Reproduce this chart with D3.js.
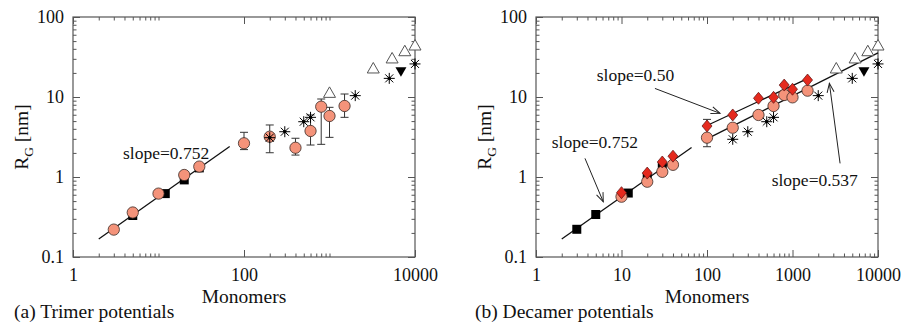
<!DOCTYPE html>
<html>
<head>
<meta charset="utf-8">
<script src="https://cdn.jsdelivr.net/npm/d3@7"></script>
<style>
body { margin: 0; background: #fff; }
svg text { font-family: "Liberation Serif", Tinos, "DejaVu Serif", serif !important; }
</style>
</head>
<body>
<svg id="chart" width="905" height="322"></svg>
<script>
// DATA ----------------------------------------------
// tick labels
const xTicksA = [1, 100, 10000];
const xTicksB = [1, 10, 100, 1000, 10000];
const yTicks = [0.1, 1, 10, 100];

// (a) trimer potentials
const aSquaresN = [5, 12, 20, 30];
const aSquaresR = [0.33, 0.62, 0.92, 1.3];
const aCirclesN = [3, 5, 10, 20, 30, 100, 200, 400, 600, 800, 1000, 1500];
const aCirclesR = [0.22, 0.36, 0.62, 1.06, 1.35, 2.64, 3.19, 2.32, 3.76, 7.57, 5.79, 7.72];
const aCirclesLo = [null, null, null, null, null, 2.2, 2.01, 1.88, 2.51, 2.56, 3.13, 5.57];
const aCirclesHi = [null, null, null, null, null, 3.62, 4.47, 3.05, 5.96, 9.44, 7.43, 10.9];
const aStarsN = [200, 300, 500, 600, 2000, 5000, 10000];
const aStarsR = [3.1, 3.68, 4.91, 5.57, 10.4, 17.1, 25.9];
const aTrianglesN = [1000, 3250, 5400, 7600, 10000];
const aTrianglesR = [11.1, 22.4, 29.9, 36.8, 43.4];
const aDownN = [6850];
const aDownR = [20.7];
const aFitN = [2, 68];
const aFitR = [0.168, 2.4];

// (b) decamer potentials
const bSquaresN = [3, 5, 12, 20, 30];
const bSquaresR = [0.222, 0.34, 0.63, 0.99, 1.35];
const bCirclesN = [10, 20, 30, 40, 100, 200, 400, 600, 800, 1000, 1500];
const bCirclesR = [0.567, 0.873, 1.16, 1.42, 3.1, 4.13, 5.96, 7.72, 10.6, 9.9, 12.0];
const bCirclesLo = [null, null, null, null, 2.39, null, null, null, null, null, null];
const bDiamondsN = [10, 20, 30, 40, 100, 200, 400, 600, 800, 1000, 1500];
const bDiamondsR = [0.637, 1.12, 1.54, 1.82, 4.34, 5.96, 9.64, 9.9, 14.1, 12.5, 16.3];
const bDiamondsHi = [null, null, null, null, 5.25, null, null, null, null, null, null];
const bStarsN = [200, 300, 500, 600, 2000, 5000, 10000];
const bStarsR = [2.96, 3.68, 4.91, 5.57, 10.4, 17.1, 25.9];
const bTrianglesN = [3250, 5400, 7600, 10000];
const bTrianglesR = [22.4, 29.9, 36.8, 43.4];
const bDownN = [6850];
const bDownR = [20.7];
const bFit752N = [2, 66];
const bFit752R = [0.168, 2.34];
const bFit50N = [100, 1500];
const bFit50R = [4.4, 17.0];
const bFit537N = [100, 10000];
const bFit537R = [3.0, 35.6];

// TWEAKABLES ----------------------------------------
const W = 342, H = 240, topY = 17;
const circleFill = "#f4937a", diamondFill = "#e52a1e";

const svg = d3.select("#chart");

// arrow head
svg.append("defs").append("marker")
    .attr("id", "arrow")
    .attr("viewBox", "-10 -5 12 10")
    .attr("refX", 0).attr("refY", 0)
    .attr("markerWidth", 12).attr("markerHeight", 10)
    .attr("markerUnits", "userSpaceOnUse")
    .attr("orient", "auto")
  .append("path")
    .attr("d", "M-9,-3.5L0,0L-9,3.5")
    .attr("fill", "none")
    .attr("stroke", "#222")
    .attr("stroke-width", 1);

const zip = (N, R) => N.map((n, i) => ({n: n, r: R[i]}));

// minor ticks 2..9 in each decade (plus the decade itself when asked)
function minors(decades, withEnd) {
    let out = [];
    decades.forEach(d => {
        for (let k = 2; k <= 9; k++) out.push(d * k);
        if (withEnd) out.push(d * 10);
    });
    return out;
}

function drawPanel(left, cfg) {
    const x = d3.scaleLog().domain([1, 10000]).range([0, W]);
    const y = d3.scaleLog().domain([0.1, 100]).range([H, 0]);
    const g = svg.append("g").attr("transform", `translate(${left},${topY})`);

    const yMinor = minors([0.1, 1, 10], false);

    // axes, ticks pointing inwards
    const axes = [
        [() => d3.axisBottom(x), `translate(0,${H})`, cfg.xMajor, cfg.xMinor, true, 11],
        [() => d3.axisTop(x), null, cfg.xMajor, cfg.xMinor, false, 0],
        [() => d3.axisLeft(y), null, yTicks, yMinor, true, 9],
        [() => d3.axisRight(y), `translate(${W},0)`, yTicks, yMinor, false, 0]
    ];
    axes.forEach(([mk, tr, major, minor, labels, pad]) => {
        let a = g.append("g").attr("class", "axis");
        if (tr) a.attr("transform", tr);
        a.call(mk().tickValues(major).tickSize(-7).tickPadding(pad)
            .tickFormat(labels ? (d => String(d)) : ""));
        let m = g.append("g").attr("class", "axis");
        if (tr) m.attr("transform", tr);
        m.call(mk().tickValues(minor).tickSize(-3.5).tickFormat(""));
    });
    g.selectAll(".axis").attr("font-family", null);
    g.selectAll(".axis path.domain").remove();
    g.selectAll(".axis line").attr("stroke", "#555");
    g.selectAll(".axis text").attr("font-size", 18).attr("fill", "#111");

    g.append("rect").attr("width", W).attr("height", H)
        .attr("fill", "none").attr("stroke", "#555").attr("stroke-width", 1.2);

    // fit lines
    cfg.fits.forEach(f => {
        g.append("path")
            .datum(zip(f[0], f[1]))
            .attr("fill", "none").attr("stroke", "#111").attr("stroke-width", 1.3)
            .attr("d", d3.line().x(d => x(d.n)).y(d => y(d.r)));
    });

    // error bars
    const bars = [];
    cfg.errors.forEach(e => e[0].forEach((n, i) => {
        const lo = e[2][i] == null ? e[1][i] : e[2][i];
        const hi = e[3][i] == null ? e[1][i] : e[3][i];
        if (lo !== hi) bars.push({n: n, lo: lo, hi: hi});
    }));
    const eb = g.append("g").attr("stroke", "#333").attr("stroke-width", 1);
    bars.forEach(b => {
        eb.append("line").attr("x1", x(b.n)).attr("x2", x(b.n)).attr("y1", y(b.lo)).attr("y2", y(b.hi));
        [b.lo, b.hi].forEach(v => eb.append("line")
            .attr("x1", x(b.n) - 4).attr("x2", x(b.n) + 4).attr("y1", y(v)).attr("y2", y(v)));
    });

    const marks = (data, cls) => g.selectAll("." + cls).data(data).enter()
        .append("path").attr("class", cls)
        .attr("transform", d => `translate(${x(d.n)},${y(d.r)})`);

    marks(zip(cfg.squares[0], cfg.squares[1]), "sq")
        .attr("d", "M-4.5,-4.5H4.5V4.5H-4.5Z").attr("fill", "#000");
    marks(zip(cfg.circles[0], cfg.circles[1]), "ci")
        .attr("d", d3.symbol(d3.symbolCircle, 100)())
        .attr("fill", circleFill).attr("stroke", "#3a2a25").attr("stroke-width", 0.8);
    if (cfg.diamonds)
        marks(zip(cfg.diamonds[0], cfg.diamonds[1]), "di")
            .attr("d", "M0,-6L5,0L0,6L-5,0Z")
            .attr("fill", diamondFill).attr("stroke", "#5a1010").attr("stroke-width", 0.7);
    marks(zip(cfg.stars[0], cfg.stars[1]), "st")
        .attr("d", "M-5.5,0H5.5M0,-5.5V5.5M-4,-4L4,4M-4,4L4,-4M-1.3,0a1.3,1.3 0 1,0 2.6,0a1.3,1.3 0 1,0 -2.6,0")
        .attr("fill", "#000").attr("stroke", "#000").attr("stroke-width", 1);
    marks(zip(cfg.triangles[0], cfg.triangles[1]), "tr")
        .attr("d", "M0,-6.5L6,4L-6,4Z")
        .attr("fill", "#fff").attr("stroke", "#555").attr("stroke-width", 1);
    marks(zip(cfg.down[0], cfg.down[1]), "dn")
        .attr("d", "M0,5L5.5,-4.5L-5.5,-4.5Z").attr("fill", "#000");

    // annotations
    cfg.notes.forEach(t => {
        g.append("text").attr("x", x(t.n)).attr("y", y(t.r))
            .attr("font-size", 17.5).attr("fill", "#111").text(t.text);
    });
    cfg.arrows.forEach(a => {
        g.append("line")
            .attr("x1", x(a[0])).attr("y1", y(a[1])).attr("x2", x(a[2])).attr("y2", y(a[3]))
            .attr("stroke", "#222").attr("stroke-width", 1)
            .attr("marker-end", "url(#arrow)");
    });

    // axis titles
    g.append("text").attr("x", W / 2).attr("y", 286).attr("text-anchor", "middle")
        .attr("font-size", 19.5).attr("fill", "#111").text("Monomers");
    const yl = g.append("text")
        .attr("transform", `translate(${cfg.yTitleX},${H / 2}) rotate(-90)`)
        .attr("text-anchor", "middle").attr("font-size", 19.5).attr("fill", "#111");
    yl.append("tspan").text("R");
    yl.append("tspan").attr("font-size", 13.5).attr("dy", 5).text("G");
    yl.append("tspan").attr("dy", -5).text(" [nm]");

    svg.append("text").attr("x", cfg.captionX).attr("y", 318)
        .attr("font-size", 19.5).attr("fill", "#111").text(cfg.caption);
}

drawPanel(73, {
    xMajor: xTicksA,
    xMinor: minors([1, 100], true),
    squares: [aSquaresN, aSquaresR],
    circles: [aCirclesN, aCirclesR],
    stars: [aStarsN, aStarsR],
    triangles: [aTrianglesN, aTrianglesR],
    down: [aDownN, aDownR],
    fits: [[aFitN, aFitR]],
    errors: [[aCirclesN, aCirclesR, aCirclesLo, aCirclesHi]],
    notes: [{n: 3.85, r: 1.68, text: "slope=0.752"}],
    arrows: [],
    yTitleX: -45,
    caption: "(a) Trimer potentials",
    captionX: 14
});

drawPanel(536, {
    xMajor: xTicksB,
    xMinor: minors([1, 10, 100, 1000], false),
    squares: [bSquaresN, bSquaresR],
    circles: [bCirclesN, bCirclesR],
    diamonds: [bDiamondsN, bDiamondsR],
    stars: [bStarsN, bStarsR],
    triangles: [bTrianglesN, bTrianglesR],
    down: [bDownN, bDownR],
    fits: [[bFit752N, bFit752R], [bFit50N, bFit50R], [bFit537N, bFit537R]],
    errors: [[bCirclesN, bCirclesR, bCirclesLo, bCirclesR.map(() => null)],
             [bDiamondsN, bDiamondsR, bDiamondsR.map(() => null), bDiamondsHi]],
    notes: [{n: 1.53, r: 2.3, text: "slope=0.752"},
            {n: 5.13, r: 15.8, text: "slope=0.50"},
            {n: 571, r: 0.772, text: "slope=0.537"}],
    arrows: [[3.74, 1.71, 6.12, 0.49],
             [24.6, 12.8, 142, 6.25],
             [3600, 1.48, 2700, 14.8]],
    yTitleX: -45,
    caption: "(b) Decamer potentials",
    captionX: 475
});
</script>
</body>
</html>
